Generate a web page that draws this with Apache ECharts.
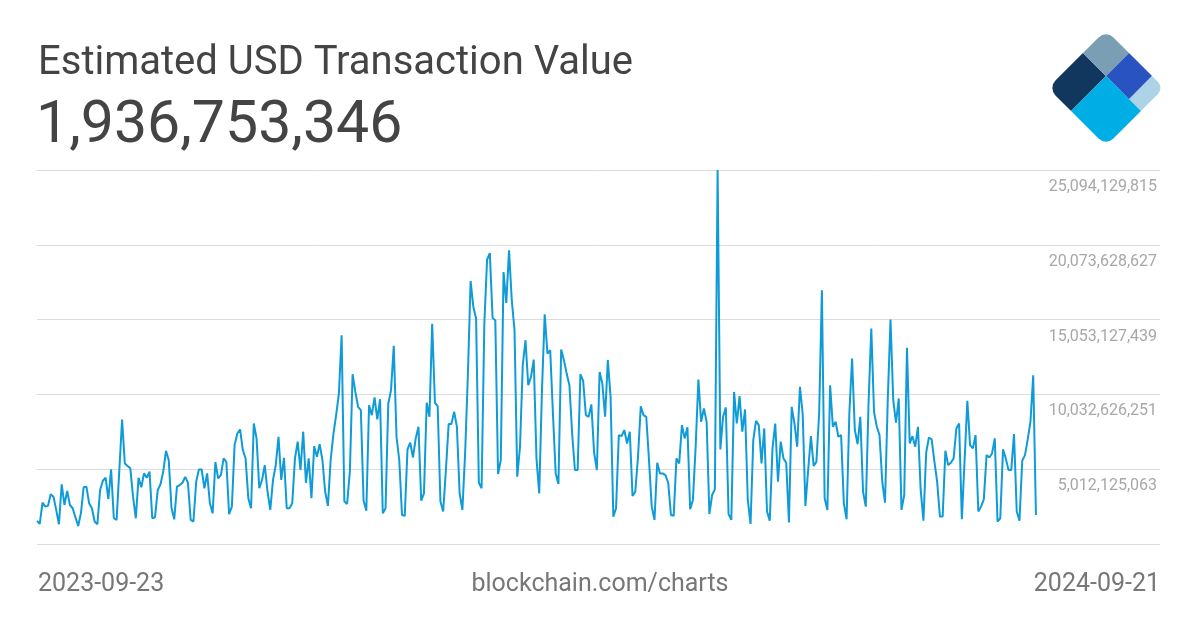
<!DOCTYPE html>
<html><head><meta charset="utf-8">
<script src="https://cdn.jsdelivr.net/npm/echarts@6/dist/echarts.min.js"></script>
<style>html,body{margin:0;padding:0;background:#fff}#chart{width:1200px;height:630px}</style>
</head><body><div id="chart"></div>
<script>
const chartTitle = 'Estimated USD Transaction Value';
const headline = '1,936,753,346';
const startDate = '2023-09-23';
const endDate = '2024-09-21';
const sourceText = 'blockchain.com/charts';
const yTicks = [-8376125, 5012125063, 10032626251, 15053127439, 20073628627, 25094129815];
const UNIT = 1e9;
// daily values, in billions USD
const valuesBn = [
1.54,1.34,2.77,2.5,2.55,3.33,3.17,2.28,1.32,4.0,2.61,3.55,2.61,2.39,1.79,1.2,2.05,3.8,3.84,2.72,
2.39,1.5,1.32,3.62,4.24,4.44,3.01,5.0,1.72,1.61,4.96,8.35,5.4,5.23,5.07,3.17,1.72,4.44,3.8,4.73,
4.44,4.85,1.72,1.79,3.62,4.0,4.85,6.25,5.63,2.43,1.65,3.84,3.95,4.1,4.5,4.1,1.61,1.5,4.17,5.0,
5.0,3.73,4.73,2.72,2.05,5.5,4.4,4.62,5.74,5.5,2.0,2.5,6.63,7.41,7.68,6.3,5.74,3.06,2.39,8.08,
7.08,3.73,4.29,5.29,3.5,2.28,4.29,5.29,7.19,4.29,5.78,2.39,2.39,2.72,5.74,6.86,4.96,7.53,4.1,5.74,
3.06,6.56,5.85,6.7,5.63,3.5,2.55,5.63,7.37,8.64,10.09,14.0,2.84,2.68,4.85,11.39,10.2,9.2,8.98,2.9,
2.23,9.31,8.64,9.83,8.35,9.71,2.05,2.39,9.42,10.32,13.29,7.19,5.63,1.94,1.88,6.34,6.79,5.8,7.08,7.86,
2.9,3.39,9.47,8.53,14.78,9.47,9.24,2.84,2.17,4.96,8.04,8.04,8.87,7.86,3.39,2.28,6.07,11.32,17.64,15.9,
15.12,4.1,3.73,14.78,19.07,19.52,15.18,15.0,4.69,5.63,18.24,16.17,19.7,16.35,14.34,4.51,6.52,11.99,13.67,10.65,
11.21,12.37,5.74,3.39,10.32,15.41,12.77,13.0,8.75,4.73,4.02,13.04,12.33,11.43,10.65,7.41,4.96,4.96,11.39,10.94,
8.64,8.53,9.36,6.12,4.96,11.54,10.76,8.53,12.33,9.87,1.83,2.39,7.3,7.23,7.64,6.74,7.53,3.22,3.5,5.85,
9.24,8.64,8.53,5.63,2.5,1.61,5.45,4.73,4.73,4.62,4.1,1.94,1.88,5.74,5.4,7.97,7.08,7.82,2.32,2.95,
6.52,11.03,8.2,9.09,8.2,2.0,3.28,3.66,25.094129815,6.34,8.53,9.16,2.0,1.61,10.2,8.08,9.92,7.53,9.02,2.95,
1.34,6.97,8.26,7.97,5.4,7.75,2.17,1.56,6.41,8.08,4.17,6.86,5.74,5.45,1.43,9.2,8.08,6.52,10.54,8.75,
2.55,4.96,7.23,5.23,5.52,8.75,17.02,3.06,2.28,10.65,7.86,8.2,7.19,7.3,2.72,1.65,8.75,12.44,7.64,6.7,
8.53,3.5,2.5,9.42,14.45,8.87,7.86,7.3,4.17,2.77,9.65,15.05,9.65,8.13,9.76,2.28,3.28,13.17,6.74,7.23,
6.52,7.86,3.62,1.56,6.12,7.14,7.01,5.52,4.17,1.83,1.83,6.25,5.29,5.45,5.74,7.75,8.08,1.65,5.63,9.6,
6.63,6.41,7.3,2.17,2.5,2.99,5.96,5.8,6.07,7.08,1.5,1.72,6.34,5.74,4.96,4.96,7.37,2.17,1.56,5.58,
5.96,7.01,8.2,11.32,1.936753346
];
const DAY = 86400000;
const t0 = Date.parse(startDate + 'T00:00:00Z');
const dates = valuesBn.map((_, i) => t0 + i * DAY);
const seriesData = dates.map((t, i) => [t, valuesBn[i] * UNIT]);
const xMax = t0 + 409.2 * DAY;

const chart = echarts.init(document.getElementById('chart'), null, {renderer: 'canvas'});
const FF = 'Roboto, "Noto Sans", sans-serif';
const LOGO_SCALE = 82 / 78;
chart.setOption({
  animation: false,
  backgroundColor: '#ffffff',
  grid: {left: 37, right: 40, top: 170, bottom: 86, containLabel: false},
  xAxis: {
    type: 'time', min: t0, max: xMax, show: true,
    axisLine: {show: false}, axisTick: {show: false}, axisLabel: {show: false}, splitLine: {show: false}
  },
  yAxis: {
    type: 'value', position: 'right',
    min: yTicks[0], max: yTicks[yTicks.length - 1],
    axisLine: {show: false},
    axisTick: {show: false, customValues: yTicks},
    splitLine: {show: true, lineStyle: {color: '#dcdcdc', width: 1}},
    axisLabel: {
      inside: true, margin: 3,
      customValues: yTicks.slice(1),
      formatter: v => Math.round(v).toLocaleString('en-US'),
      color: '#a8a8a8', fontSize: 16, fontFamily: FF,
      verticalAlign: 'top', padding: [9, 0, 0, 0]
    }
  },
  series: [{
    type: 'line', data: seriesData, showSymbol: false, symbol: 'none',
    lineStyle: {color: '#0e9bd8', width: 2}, silent: true
  }],
  graphic: [
    {type: 'text', left: 38, top: 44, style: {text: chartTitle, font: '40px ' + FF, fill: '#444444'}},
    {type: 'text', left: 36, top: 98, style: {text: headline, font: '59px ' + FF, fill: '#444444'}},
    {type: 'text', left: 38, top: 572, style: {text: startDate, font: '25px ' + FF, fill: '#777777'}},
    {type: 'text', left: 'center', top: 572, style: {text: sourceText, font: '25px ' + FF, fill: '#777777'}},
    {type: 'text', right: 40, top: 572, style: {text: endDate, font: '25px ' + FF, fill: '#777777'}},
    {
      type: 'group', x: 1048, y: 88, rotation: Math.PI / 4, scaleX: LOGO_SCALE, scaleY: LOGO_SCALE,
      children: [
        {type: 'rect', shape: {x: 0, y: 0, width: 47, height: 31, r: [10, 0, 0, 0]}, style: {fill: '#12375f'}},
        {type: 'rect', shape: {x: 47, y: 0, width: 31, height: 31, r: [0, 10, 0, 0]}, style: {fill: '#7a9fb4'}},
        {type: 'rect', shape: {x: 47, y: 31, width: 31, height: 31, r: 0}, style: {fill: '#2853c0'}},
        {type: 'rect', shape: {x: 47, y: 62, width: 31, height: 16, r: [0, 0, 8, 0]}, style: {fill: '#aed3e6'}},
        {type: 'rect', shape: {x: 0, y: 31, width: 47, height: 47, r: [0, 0, 0, 10]}, style: {fill: '#00aee6'}}
      ]
    }
  ]
});
</script>
</body></html>
